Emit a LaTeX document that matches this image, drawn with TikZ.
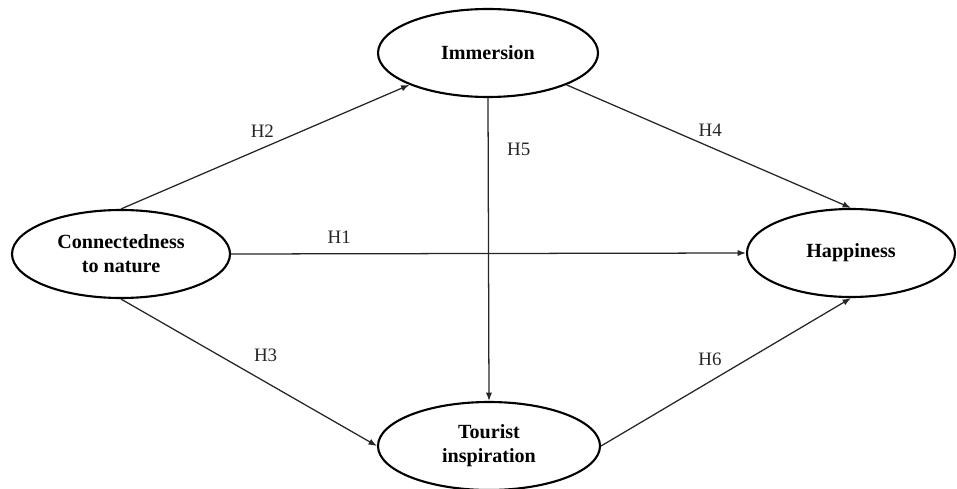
\documentclass[tikz,border=0pt]{standalone}
\usepackage{fontspec}
\setmainfont{Liberation Serif}
\usepackage{tikz}
\usetikzlibrary{arrows.meta,positioning,shapes.geometric}

\begin{document}
\begin{tikzpicture}[
  construct/.style={draw, ellipse, line width=1.5pt, inner sep=0pt, minimum width=5.45cm, minimum height=2.2cm, align=center, font=\fontsize{14.3}{17}\selectfont\bfseries},
  hyp/.style={inner sep=0pt, font=\fontsize{13.5}{15}\selectfont},
  arrow/.style={-{Latex[length=6pt,width=4.5pt]}, line width=0.9pt, black!85}
]
  \useasboundingbox (0,0) rectangle (23.925,12.2);

  % Nodes
  \node[construct] (conn) at (3.025,5.85) {Connectedness\\to nature};
  \node[construct, minimum width=5.5cm] (imm) at (12.2,10.875) {Immersion};
  \node[construct, minimum width=5.55cm] (tour) at (12.225,1.05) {Tourist\\inspiration};
  \node[construct, minimum width=5.2cm] (happ) at (21.275,5.875) {Happiness};

  % Arrows
  \draw[arrow] (conn.east) -- node[hyp, pos=0.21, above=7pt] {H1} (happ.west);
  \draw[arrow] (conn.north) -- node[hyp, pos=0.49, above=7pt] {H2} (imm.south west);
  \draw[arrow] (conn.south) -- node[hyp, pos=0.565, above=14pt] {H3} (tour.west);
  \draw[arrow] (imm.south east) -- node[hyp, pos=0.505, above=7pt] {H4} (happ.north);
  \draw[arrow] (imm.south) -- node[hyp, pos=0.17, right=13pt] {H5} (tour.north);
  \draw[arrow] (tour.east) -- node[hyp, pos=0.436, above=11pt] {H6} (happ.south);
\end{tikzpicture}
\end{document}
